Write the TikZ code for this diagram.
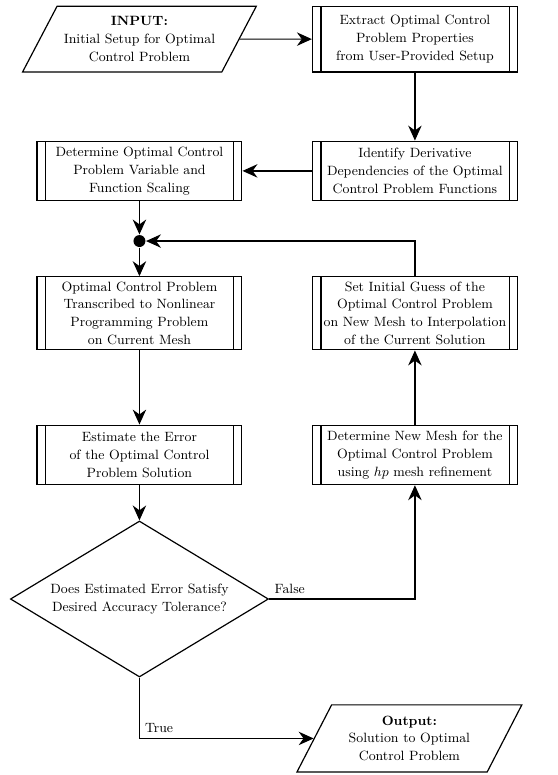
\documentclass[tikz,border=0pt]{standalone}
\usepackage{amsmath}
\usepackage{tikz}
\usetikzlibrary{shapes.geometric,arrows.meta}

\begin{document}
\begin{tikzpicture}[line width=0.8pt, >={Stealth[length=10pt,width=9pt]}]
\tikzstyle{every node}+=[font=\fontsize{9}{12}\selectfont]
\tikzstyle{process}=[draw, rectangle, align=center, minimum width=4.82cm,
  minimum height=1.4cm, inner sep=2pt,
  path picture={
    \draw ([xshift=0.2cm]path picture bounding box.north west) -- ([xshift=0.2cm]path picture bounding box.south west);
    \draw ([xshift=-0.19cm]path picture bounding box.north east) -- ([xshift=-0.19cm]path picture bounding box.south east);
  }]
\tikzstyle{io}=[draw, trapezium, trapezium left angle=58, trapezium right angle=122,
  trapezium stretches body=true, align=center, minimum width=5.5cm, minimum height=1.55cm]
\tikzstyle{decision}=[draw, diamond, aspect=1.65, align=center, minimum width=6.07cm,
  minimum height=3.67cm, inner sep=0pt]
\tikzstyle{junction}=[circle, fill, inner sep=0pt, minimum size=8pt]
\useasboundingbox (0,0) rectangle (13.12,-18.23);
% left column
\node [io] (input) at (3.28,-0.92) {\textbf{INPUT:}\\Initial Setup for Optimal\\Control Problem};
\node [process] (scaling) at (3.28,-4.02) {Determine Optimal Control\\Problem Variable and\\Function Scaling};
\node [junction] (merge) at (3.28,-5.67) {};
\node [process, minimum height=1.72cm] (transcribe) at (3.28,-7.37) {Optimal Control Problem\\Transcribed to Nonlinear\\Programming Problem\\on Current Mesh};
\node [process] (estimate) at (3.28,-10.70) {Estimate the Error\\of the Optimal Control\\Problem Solution};
\node [decision] (check) at (3.28,-14.09) {Does Estimated Error Satisfy\\Desired Accuracy Tolerance?};
% right column
\node [process, minimum height=1.55cm] (extract) at (9.76,-0.92) {Extract Optimal Control\\Problem Properties\\from User-Provided Setup};
\node [process] (derivs) at (9.76,-4.02) {Identify Derivative\\Dependencies of the Optimal\\Control Problem Functions};
\node [process, minimum height=1.72cm] (guess) at (9.76,-7.37) {Set Initial Guess of the\\Optimal Control Problem\\on New Mesh to Interpolation\\of the Current Solution};
\node [process] (newmesh) at (9.76,-10.70) {Determine New Mesh for the\\Optimal Control Problem\\using $hp$ mesh refinement};
\node [io, minimum width=5.29cm, minimum height=1.58cm] (output) at (9.63,-17.37) {\textbf{Output:}\\Solution to Optimal\\Control Problem};
% connectors
\draw [->] (input) -- (extract);
\draw [->] (extract) -- (derivs);
\draw [->] (derivs) -- (scaling);
\draw [->] (scaling) -- (merge);
\draw [->] (guess.north) |- (merge);
\draw [->] (merge) -- (transcribe);
\draw [->] (transcribe) -- (estimate);
\draw [->] (estimate) -- (check);
\draw [->] (check.east) -| (newmesh.south);
\draw [->] (newmesh) -- (guess);
\coordinate (corner) at (check.south |- output.west);
\draw [->] (check.south) -- (corner) -- (output.west);
\node [above right] (lfalse) at (check.east) {False};
\node [above right] (ltrue) at (corner) {True};
\end{tikzpicture}
\end{document}
